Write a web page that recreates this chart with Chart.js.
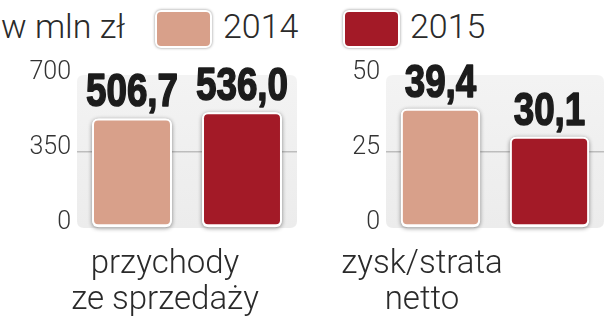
<!DOCTYPE html>
<html>
<head>
<meta charset="utf-8">
<script src="https://cdn.jsdelivr.net/npm/chart.js@4/dist/chart.umd.min.js"></script>
<style>
  html, body { margin: 0; padding: 0; background: #fff; }
  #wrap { position: relative; width: 606px; height: 319px; overflow: hidden; font-family: Roboto, "Open Sans", sans-serif; font-weight: 300; color: #2a2a2a; }
  .box { position: absolute; top: 0; height: 280px; }
  .txt { position: absolute; white-space: nowrap; font-size: 34px; line-height: 36px; }
  .sw { position: absolute; width: 53px; height: 34px; border: 2px solid #fff; border-radius: 6px; box-shadow: 0 0 3px rgba(0,0,0,0.45); }
  .cat { position: absolute; width: 300px; text-align: center; font-size: 33px; line-height: 36px; }
</style>
</head>
<body>
<div id="wrap">
  <div class="txt" style="left:1px; top:8px;" id="unit"></div>
  <div class="sw" id="sw0" style="left:155px; top:10px;"></div>
  <div class="txt" id="lg0" style="left:223px; top:8px;"></div>
  <div class="sw" id="sw1" style="left:343px; top:10px;"></div>
  <div class="txt" id="lg1" style="left:410px; top:8px;"></div>
  <div class="box" style="left:0; width:300px;"><canvas id="c0"></canvas></div>
  <div class="box" style="left:300px; width:306px;"><canvas id="c1"></canvas></div>
  <div class="cat" id="cat0" style="left:15px; top:244px;"></div>
  <div class="cat" id="cat1" style="left:272px; top:244px;"></div>
</div>
<script>
// ---- data ----
const unitLabel = 'w mln zł';
const seriesNames = ['2014', '2015'];
const seriesColors = ['#d8a08a', '#a31a27'];
const categories = [['przychody', 'ze sprzedaży'], ['zysk/strata', 'netto']];
const revenueValues = [506.7, 536.0];   // przychody ze sprzedaży: 2014, 2015
const profitValues = [39.4, 30.1];      // zysk/strata netto: 2014, 2015
const revenueTicks = [0, 350, 700];
const profitTicks = [0, 25, 50];

document.getElementById('unit').textContent = unitLabel;
document.getElementById('lg0').textContent = seriesNames[0];
document.getElementById('lg1').textContent = seriesNames[1];
document.getElementById('sw0').style.background = seriesColors[0];
document.getElementById('sw1').style.background = seriesColors[1];
document.getElementById('cat0').innerHTML = categories[0].join('<br>');
document.getElementById('cat1').innerHTML = categories[1].join('<br>');

function roundRect(ctx, x, y, w, h, r) {
  ctx.beginPath();
  ctx.moveTo(x + r, y);
  ctx.lineTo(x + w - r, y);
  ctx.quadraticCurveTo(x + w, y, x + w, y + r);
  ctx.lineTo(x + w, y + h - r);
  ctx.quadraticCurveTo(x + w, y + h, x + w - r, y + h);
  ctx.lineTo(x + r, y + h);
  ctx.quadraticCurveTo(x, y + h, x, y + h - r);
  ctx.lineTo(x, y + r);
  ctx.quadraticCurveTo(x, y, x + r, y);
  ctx.closePath();
}

const panelPlugin = {
  id: 'panel',
  beforeDraw(chart) {
    const { ctx, chartArea: a } = chart;
    ctx.save();
    const g = ctx.createLinearGradient(0, a.top, 0, a.bottom);
    g.addColorStop(0, '#f3f3f3');
    g.addColorStop(1, '#ececec');
    ctx.fillStyle = g;
    roundRect(ctx, a.left, a.top - 2, a.right - a.left, a.bottom - a.top + 3, 7);
    ctx.fill();
    ctx.restore();
  },
  beforeDatasetsDraw(chart) {
    const ctx = chart.ctx;
    ctx.save();
    ctx.shadowColor = 'rgba(0,0,0,0.45)';
    ctx.shadowBlur = 4;
    ctx.shadowOffsetY = 1;
    ctx.fillStyle = '#fff';
    chart.data.datasets.forEach((ds, i) => {
      chart.getDatasetMeta(i).data.forEach(el => {
        const w = el.width;
        roundRect(ctx, el.x - w / 2, el.y, w, el.base - el.y + 1, 7);
        ctx.fill();
      });
    });
    ctx.restore();
  },
  afterDatasetsDraw(chart) {
    const ctx = chart.ctx;
    ctx.save();
    ctx.fillStyle = '#1c1c1c';
    ctx.strokeStyle = '#1c1c1c';
    ctx.lineWidth = 1.6;
    ctx.lineJoin = 'round';
    ctx.textAlign = 'center';
    ctx.textBaseline = 'alphabetic';
    ctx.font = 'bold 46px "Liberation Sans", Arial, sans-serif';
    chart.data.datasets.forEach((ds, i) => {
      chart.getDatasetMeta(i).data.forEach((el, j) => {
        const txt = ds.data[j].toFixed(1).replace('.', ',');
        ctx.save();
        ctx.translate(el.x, el.y - 12);
        ctx.scale(0.8, 1);
        ctx.fillText(txt, 0, 0);
        ctx.strokeText(txt, 0, 0);
        ctx.restore();
      });
    });
    ctx.restore();
  }
};

function makeChart(id, values, ticks, axisWidth, padRight) {
  return new Chart(document.getElementById(id), {
    type: 'bar',
    data: {
      labels: [''],
      datasets: seriesNames.map((n, i) => ({
        label: n,
        data: [values[i]],
        backgroundColor: seriesColors[i],
        borderColor: '#ffffff',
        borderWidth: 2,
        borderRadius: 6,
        borderSkipped: false,
        categoryPercentage: 1.0,
        barPercentage: 0.727
      }))
    },
    options: {
      responsive: true,
      maintainAspectRatio: false,
      animation: false,
      layout: { padding: { top: 77, bottom: 53, left: 0, right: padRight } },
      plugins: { legend: { display: false }, tooltip: { enabled: false } },
      scales: {
        x: { display: false },
        y: {
          min: ticks[0],
          max: ticks[ticks.length - 1],
          afterBuildTicks(scale) { scale.ticks = ticks.map(v => ({ value: v })); },
          afterFit(scale) { scale.width = axisWidth; },
          border: { display: false },
          grid: {
            drawTicks: false,
            lineWidth: 1.5,
            color: c => (c.tick && c.tick.value === ticks[1]) ? '#bdbdbd' : 'rgba(0,0,0,0)'
          },
          ticks: {
            padding: 6,
            labelOffset: -4,
            color: '#333',
            font: { family: 'Roboto, "Open Sans", sans-serif', size: 25, weight: 300, lineHeight: 1 },
            callback: v => String(v)
          }
        }
      }
    },
    plugins: [panelPlugin]
  });
}

makeChart('c0', revenueValues, revenueTicks, 77, 3);
makeChart('c1', profitValues, profitTicks, 86, 2);
</script>
</body>
</html>
